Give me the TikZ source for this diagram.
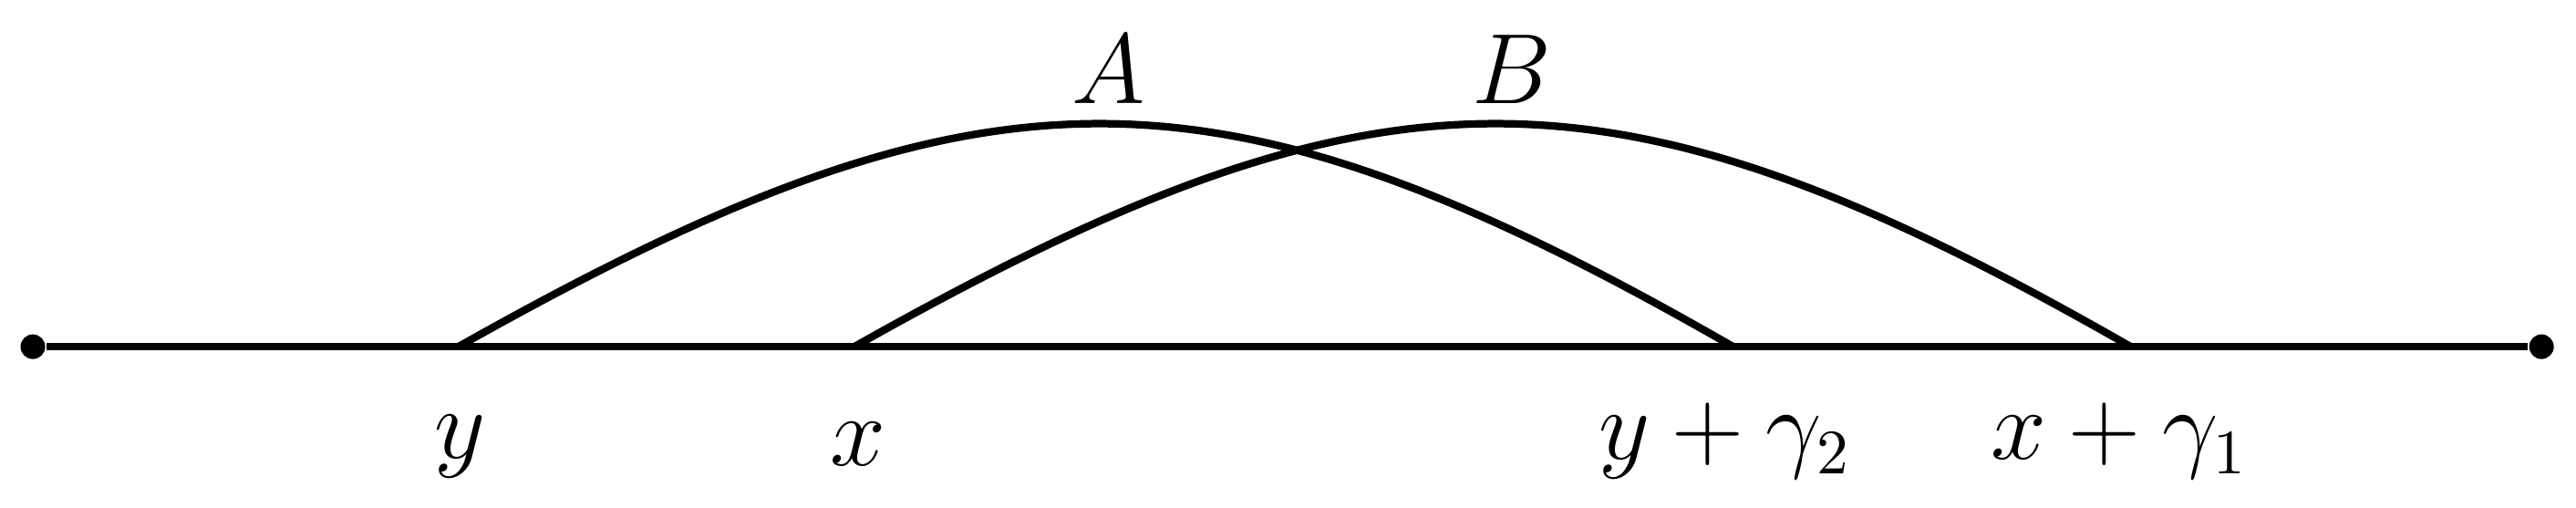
\documentclass[tikz,border=0pt]{standalone}
\begin{document}
\begin{tikzpicture}[x=0.01cm,y=-0.01cm,
  ln/.style={line width=1.3pt},
  lab/.style={font=\fontsize{16}{19}\selectfont},
  dotn/.style={circle,fill=black,inner sep=0pt,minimum size=0.15cm}]
\useasboundingbox (0,0) rectangle (1568,309);
\node[dotn] (L) at (20,211) {};
\node[dotn] (R) at (1547,211) {};
\draw[ln] (L) -- (R);
\coordinate (a1) at (279,211); \coordinate (a2) at (1055,211);
\coordinate (b1) at (520,211); \coordinate (b2) at (1297,211);
\draw[ln] (a1) .. controls (600,30) and (740,30) .. (a2);
\draw[ln] (b1) .. controls (841,30) and (981,30) .. (b2);
\node[lab] (A) at (675,42) {$A$};
\node[lab] (B) at (920,42) {$B$};
\node[lab] (ly) at (280,272) {$y$};
\node[lab] (lx) at (522,270) {$x$};
\node[lab] (ly2) at (1050,268) {$y+\gamma_2$};
\node[lab] (lx1) at (1290,268) {$x+\gamma_1$};
\end{tikzpicture}
\end{document}
